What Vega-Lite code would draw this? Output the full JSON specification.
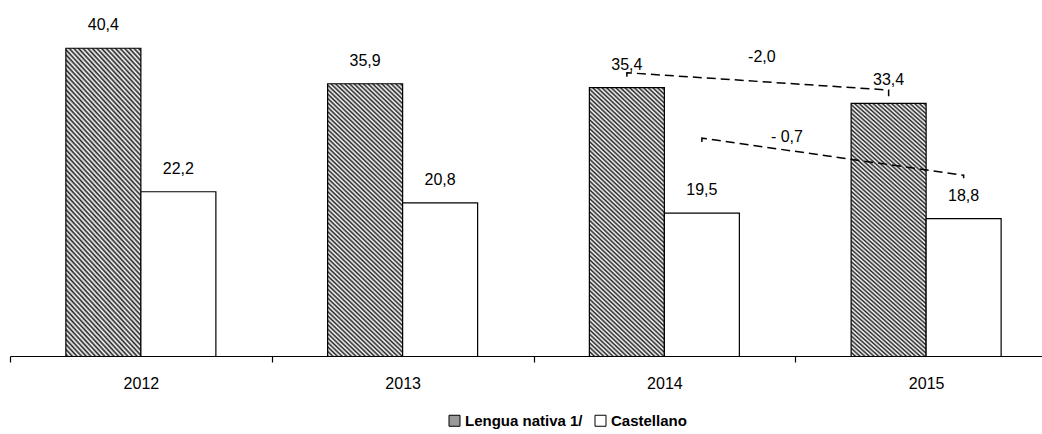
{
  "$schema": "https://vega.github.io/schema/vega-lite/v6.json",
  "width": 1032,
  "height": 344,
  "autosize": {"type": "none"},
  "padding": {"left": 10, "top": 12, "right": 0, "bottom": 78},
  "background": "white",
  "config": {
    "locale": {"number": {"decimal": ",", "thousands": ".", "grouping": [3], "currency": ["", " €"]}},
    "view": {"stroke": null},
    "font": "Liberation Sans"
  },
  "datasets": {
    "barras": [
      {"anio": "2012", "serie": "Lengua nativa 1/", "valor": 40.4},
      {"anio": "2012", "serie": "Castellano", "valor": 22.2},
      {"anio": "2013", "serie": "Lengua nativa 1/", "valor": 35.9},
      {"anio": "2013", "serie": "Castellano", "valor": 20.8},
      {"anio": "2014", "serie": "Lengua nativa 1/", "valor": 35.4},
      {"anio": "2014", "serie": "Castellano", "valor": 19.5},
      {"anio": "2015", "serie": "Lengua nativa 1/", "valor": 33.4},
      {"anio": "2015", "serie": "Castellano", "valor": 18.8}
    ],
    "notas": [
      {"grupo": "a", "anio": "2014", "serie": "Lengua nativa 1/", "valor": 36.8, "orden": 1},
      {"grupo": "a", "anio": "2014", "serie": "Lengua nativa 1/", "valor": 37.3, "orden": 2},
      {"grupo": "a", "anio": "2015", "serie": "Lengua nativa 1/", "valor": 35.1, "orden": 3},
      {"grupo": "a", "anio": "2015", "serie": "Lengua nativa 1/", "valor": 34.3, "orden": 4},
      {"grupo": "b", "anio": "2014", "serie": "Castellano", "valor": 28.5, "orden": 1},
      {"grupo": "b", "anio": "2014", "serie": "Castellano", "valor": 29.0, "orden": 2},
      {"grupo": "b", "anio": "2015", "serie": "Castellano", "valor": 24.3, "orden": 3},
      {"grupo": "b", "anio": "2015", "serie": "Castellano", "valor": 23.9, "orden": 4}
    ],
    "nota1": [{"anio": "2014", "serie": "Castellano", "valor": 39.3, "texto": "-2,0"}],
    "nota2": [{"anio": "2014", "serie": "Castellano", "valor": 29.1, "texto": "- 0,7"}]
  },
  "encoding": {
    "x": {
      "field": "anio",
      "type": "nominal",
      "scale": {"range": [0, 1047], "paddingInner": 0, "paddingOuter": 0},
      "axis": {
        "title": null,
        "labelAngle": 0,
        "tickBand": "extent",
        "domainColor": "black",
        "tickColor": "black",
        "domainWidth": 1.2,
        "tickWidth": 1.2,
        "tickSize": 6,
        "labelPadding": 13,
        "labelFontSize": 16,
        "labelColor": "black",
        "labelFont": "Liberation Sans"
      }
    },
    "xOffset": {
      "field": "serie",
      "type": "nominal",
      "scale": {"domain": ["Lengua nativa 1/", "Castellano"], "paddingInner": 0, "paddingOuter": 0.745}
    },
    "y": {
      "field": "valor",
      "type": "quantitative",
      "scale": {"domain": [1.37, 45], "zero": false, "nice": false},
      "axis": null
    }
  },
  "layer": [
    {
      "data": {"name": "barras"},
      "mark": {"type": "bar", "clip": true, "stroke": "black", "strokeWidth": 1.2},
      "encoding": {
        "fill": {
          "field": "serie",
          "type": "nominal",
          "scale": {"domain": ["Lengua nativa 1/", "Castellano"], "range": ["#9a9a9a", "white"]},
          "legend": {
            "title": null,
            "orient": "none",
            "legendX": 437,
            "legendY": 401,
            "direction": "horizontal",
            "padding": 0,
            "symbolType": "square",
            "symbolSize": 121,
            "symbolStrokeColor": "black",
            "symbolStrokeWidth": 1,
            "labelFontSize": 15,
            "labelFontWeight": "bold",
            "labelColor": "black",
            "labelFont": "Liberation Sans",
            "labelOffset": 3,
            "columnSpacing": 12
          },
          "condition": {
            "test": "datum.serie === 'Lengua nativa 1/'",
            "value": {
              "gradient": "linear",
              "x1": 0, "y1": 1, "x2": 0.2995, "y2": -0.178,
              "stops": [
                {"offset": 0, "color": "#fff"}, {"offset": 0.00625, "color": "#222"}, {"offset": 0.0125, "color": "#fff"}, {"offset": 0.01875, "color": "#222"},
                {"offset": 0.025, "color": "#fff"}, {"offset": 0.03125, "color": "#222"}, {"offset": 0.0375, "color": "#fff"}, {"offset": 0.04375, "color": "#222"},
                {"offset": 0.05, "color": "#fff"}, {"offset": 0.05625, "color": "#222"}, {"offset": 0.0625, "color": "#fff"}, {"offset": 0.06875, "color": "#222"},
                {"offset": 0.075, "color": "#fff"}, {"offset": 0.08125, "color": "#222"}, {"offset": 0.0875, "color": "#fff"}, {"offset": 0.09375, "color": "#222"},
                {"offset": 0.1, "color": "#fff"}, {"offset": 0.10625, "color": "#222"}, {"offset": 0.1125, "color": "#fff"}, {"offset": 0.11875, "color": "#222"},
                {"offset": 0.125, "color": "#fff"}, {"offset": 0.13125, "color": "#222"}, {"offset": 0.1375, "color": "#fff"}, {"offset": 0.14375, "color": "#222"},
                {"offset": 0.15, "color": "#fff"}, {"offset": 0.15625, "color": "#222"}, {"offset": 0.1625, "color": "#fff"}, {"offset": 0.16875, "color": "#222"},
                {"offset": 0.175, "color": "#fff"}, {"offset": 0.18125, "color": "#222"}, {"offset": 0.1875, "color": "#fff"}, {"offset": 0.19375, "color": "#222"},
                {"offset": 0.2, "color": "#fff"}, {"offset": 0.20625, "color": "#222"}, {"offset": 0.2125, "color": "#fff"}, {"offset": 0.21875, "color": "#222"},
                {"offset": 0.225, "color": "#fff"}, {"offset": 0.23125, "color": "#222"}, {"offset": 0.2375, "color": "#fff"}, {"offset": 0.24375, "color": "#222"},
                {"offset": 0.25, "color": "#fff"}, {"offset": 0.25625, "color": "#222"}, {"offset": 0.2625, "color": "#fff"}, {"offset": 0.26875, "color": "#222"},
                {"offset": 0.275, "color": "#fff"}, {"offset": 0.28125, "color": "#222"}, {"offset": 0.2875, "color": "#fff"}, {"offset": 0.29375, "color": "#222"},
                {"offset": 0.3, "color": "#fff"}, {"offset": 0.30625, "color": "#222"}, {"offset": 0.3125, "color": "#fff"}, {"offset": 0.31875, "color": "#222"},
                {"offset": 0.325, "color": "#fff"}, {"offset": 0.33125, "color": "#222"}, {"offset": 0.3375, "color": "#fff"}, {"offset": 0.34375, "color": "#222"},
                {"offset": 0.35, "color": "#fff"}, {"offset": 0.35625, "color": "#222"}, {"offset": 0.3625, "color": "#fff"}, {"offset": 0.36875, "color": "#222"},
                {"offset": 0.375, "color": "#fff"}, {"offset": 0.38125, "color": "#222"}, {"offset": 0.3875, "color": "#fff"}, {"offset": 0.39375, "color": "#222"},
                {"offset": 0.4, "color": "#fff"}, {"offset": 0.40625, "color": "#222"}, {"offset": 0.4125, "color": "#fff"}, {"offset": 0.41875, "color": "#222"},
                {"offset": 0.425, "color": "#fff"}, {"offset": 0.43125, "color": "#222"}, {"offset": 0.4375, "color": "#fff"}, {"offset": 0.44375, "color": "#222"},
                {"offset": 0.45, "color": "#fff"}, {"offset": 0.45625, "color": "#222"}, {"offset": 0.4625, "color": "#fff"}, {"offset": 0.46875, "color": "#222"},
                {"offset": 0.475, "color": "#fff"}, {"offset": 0.48125, "color": "#222"}, {"offset": 0.4875, "color": "#fff"}, {"offset": 0.49375, "color": "#222"},
                {"offset": 0.5, "color": "#fff"}, {"offset": 0.50625, "color": "#222"}, {"offset": 0.5125, "color": "#fff"}, {"offset": 0.51875, "color": "#222"},
                {"offset": 0.525, "color": "#fff"}, {"offset": 0.53125, "color": "#222"}, {"offset": 0.5375, "color": "#fff"}, {"offset": 0.54375, "color": "#222"},
                {"offset": 0.55, "color": "#fff"}, {"offset": 0.55625, "color": "#222"}, {"offset": 0.5625, "color": "#fff"}, {"offset": 0.56875, "color": "#222"},
                {"offset": 0.575, "color": "#fff"}, {"offset": 0.58125, "color": "#222"}, {"offset": 0.5875, "color": "#fff"}, {"offset": 0.59375, "color": "#222"},
                {"offset": 0.6, "color": "#fff"}, {"offset": 0.60625, "color": "#222"}, {"offset": 0.6125, "color": "#fff"}, {"offset": 0.61875, "color": "#222"},
                {"offset": 0.625, "color": "#fff"}, {"offset": 0.63125, "color": "#222"}, {"offset": 0.6375, "color": "#fff"}, {"offset": 0.64375, "color": "#222"},
                {"offset": 0.65, "color": "#fff"}, {"offset": 0.65625, "color": "#222"}, {"offset": 0.6625, "color": "#fff"}, {"offset": 0.66875, "color": "#222"},
                {"offset": 0.675, "color": "#fff"}, {"offset": 0.68125, "color": "#222"}, {"offset": 0.6875, "color": "#fff"}, {"offset": 0.69375, "color": "#222"},
                {"offset": 0.7, "color": "#fff"}, {"offset": 0.70625, "color": "#222"}, {"offset": 0.7125, "color": "#fff"}, {"offset": 0.71875, "color": "#222"},
                {"offset": 0.725, "color": "#fff"}, {"offset": 0.73125, "color": "#222"}, {"offset": 0.7375, "color": "#fff"}, {"offset": 0.74375, "color": "#222"},
                {"offset": 0.75, "color": "#fff"}, {"offset": 0.75625, "color": "#222"}, {"offset": 0.7625, "color": "#fff"}, {"offset": 0.76875, "color": "#222"},
                {"offset": 0.775, "color": "#fff"}, {"offset": 0.78125, "color": "#222"}, {"offset": 0.7875, "color": "#fff"}, {"offset": 0.79375, "color": "#222"},
                {"offset": 0.8, "color": "#fff"}, {"offset": 0.80625, "color": "#222"}, {"offset": 0.8125, "color": "#fff"}, {"offset": 0.81875, "color": "#222"},
                {"offset": 0.825, "color": "#fff"}, {"offset": 0.83125, "color": "#222"}, {"offset": 0.8375, "color": "#fff"}, {"offset": 0.84375, "color": "#222"},
                {"offset": 0.85, "color": "#fff"}, {"offset": 0.85625, "color": "#222"}, {"offset": 0.8625, "color": "#fff"}, {"offset": 0.86875, "color": "#222"},
                {"offset": 0.875, "color": "#fff"}, {"offset": 0.88125, "color": "#222"}, {"offset": 0.8875, "color": "#fff"}, {"offset": 0.89375, "color": "#222"},
                {"offset": 0.9, "color": "#fff"}, {"offset": 0.90625, "color": "#222"}, {"offset": 0.9125, "color": "#fff"}, {"offset": 0.91875, "color": "#222"},
                {"offset": 0.925, "color": "#fff"}, {"offset": 0.93125, "color": "#222"}, {"offset": 0.9375, "color": "#fff"}, {"offset": 0.94375, "color": "#222"},
                {"offset": 0.95, "color": "#fff"}, {"offset": 0.95625, "color": "#222"}, {"offset": 0.9625, "color": "#fff"}, {"offset": 0.96875, "color": "#222"},
                {"offset": 0.975, "color": "#fff"}, {"offset": 0.98125, "color": "#222"}, {"offset": 0.9875, "color": "#fff"}, {"offset": 0.99375, "color": "#222"},
                {"offset": 1, "color": "#fff"}
              ]
            }
          }
        }
      }
    },
    {
      "data": {"name": "barras"},
      "mark": {"type": "text", "baseline": "middle", "dy": -23, "fontSize": 16, "color": "black", "font": "Liberation Sans"},
      "encoding": {
        "text": {"field": "valor", "type": "quantitative", "format": ".1f"}
      }
    },
    {
      "data": {"name": "notas"},
      "mark": {"type": "line", "color": "black", "strokeDash": [9, 5], "strokeWidth": 1.5},
      "encoding": {
        "order": {"field": "orden", "type": "quantitative"},
        "detail": {"field": "grupo", "type": "nominal"}
      }
    },
    {
      "data": {"name": "nota1"},
      "mark": {"type": "text", "baseline": "middle", "dx": 60, "fontSize": 16, "color": "black", "font": "Liberation Sans"},
      "encoding": {"text": {"field": "texto", "type": "nominal"}}
    },
    {
      "data": {"name": "nota2"},
      "mark": {"type": "text", "baseline": "middle", "dx": 85, "fontSize": 16, "color": "black", "font": "Liberation Sans"},
      "encoding": {"text": {"field": "texto", "type": "nominal"}}
    }
  ]
}
